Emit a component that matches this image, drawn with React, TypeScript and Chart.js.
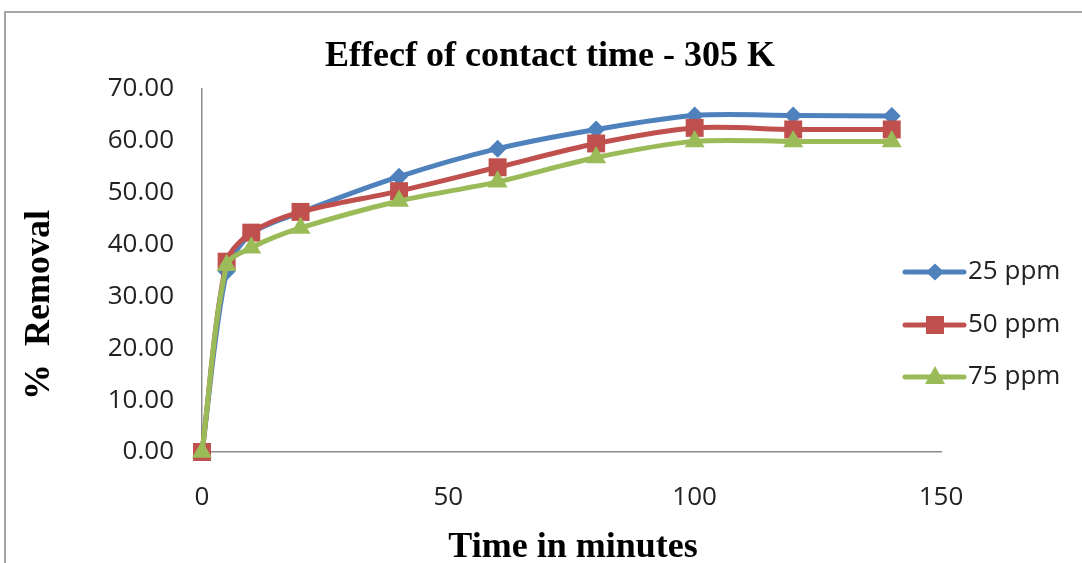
import React, { useEffect, useRef } from "react";
import { Chart, registerables } from "chart.js";

Chart.register(...registerables);

const chartTitle = "Effecf of contact time - 305 K";
const xAxisTitle = "Time in minutes";
const yAxisTitle = "%  Removal";
const timeMinutes = [0, 5, 10, 20, 40, 60, 80, 100, 120, 140];
const removal25 = [0, 34.8, 42.1, 46.2, 53.1, 58.5, 62.2, 64.9, 64.9, 64.8];
const removal50 = [0, 36.7, 42.3, 46.3, 50.3, 54.9, 59.5, 62.5, 62.2, 62.2];
const removal75 = [0, 36.0, 39.4, 43.2, 48.4, 52.1, 56.8, 59.9, 59.9, 59.9];
const seriesLabels = ["25 ppm", "50 ppm", "75 ppm"];
const seriesColors = ["#4F81BD", "#C0504D", "#9BBB59"];
const seriesMarkers = ["rectRot", "rect", "triangle"];
const xTickValues = [0, 50, 100, 150];
const yTickValues = [0, 10, 20, 30, 40, 50, 60, 70];

function drawMarker(ctx: CanvasRenderingContext2D, style: string, x: number, y: number, color: string) {
  ctx.save();
  ctx.fillStyle = color;
  ctx.beginPath();
  if (style === "rectRot") {
    ctx.moveTo(x, y - 8.5);
    ctx.lineTo(x + 9, y);
    ctx.lineTo(x, y + 8.5);
    ctx.lineTo(x - 9, y);
  } else if (style === "rect") {
    ctx.rect(x - 9, y - 9, 18, 18);
  } else {
    ctx.moveTo(x, y - 11);
    ctx.lineTo(x + 10, y + 7);
    ctx.lineTo(x - 10, y + 7);
  }
  ctx.closePath();
  ctx.fill();
  ctx.restore();
}

const SERIF = "'Liberation Serif', 'Times New Roman', serif";
const SANS = "'Open Sans', 'Noto Sans', sans-serif";

const textPlugin = {
  id: "customText",
  afterDraw(chart: any) {
    const ctx: CanvasRenderingContext2D = chart.ctx;
    ctx.save();
    ctx.fillStyle = "#000";
    ctx.textAlign = "center";
    ctx.textBaseline = "alphabetic";
    ctx.font = `bold 36px ${SERIF}`;
    ctx.fillText(chartTitle, 550, 66);
    ctx.fillText(xAxisTitle, 573, 557);
    ctx.translate(49, 305);
    ctx.rotate(-Math.PI / 2);
    ctx.fillText(yAxisTitle, 0, 0);
    ctx.restore();

    const legendY = [272, 325, 377];
    chart.data.datasets.forEach((ds: any, i: number) => {
      const y = legendY[i];
      ctx.save();
      ctx.strokeStyle = ds.borderColor;
      ctx.lineWidth = 5;
      ctx.lineCap = "round";
      ctx.beginPath();
      ctx.moveTo(905, y);
      ctx.lineTo(964, y);
      ctx.stroke();
      drawMarker(ctx, ds.pointStyle, 935, y, ds.borderColor);
      ctx.fillStyle = "#222";
      ctx.textAlign = "left";
      ctx.textBaseline = "middle";
      ctx.font = `26px ${SANS}`;
      ctx.fillText(ds.label, 968, y);
      ctx.restore();
    });
  },
};

export default function App() {
  const canvasRef = useRef<HTMLCanvasElement | null>(null);

  useEffect(() => {
    if (!canvasRef.current) return;
    const seriesData = [removal25, removal50, removal75];
    const radii = [9, 12.7, 11.5];
    const chart = new Chart(canvasRef.current, {
      type: "line",
      data: {
        datasets: seriesData.map((vals, i) => ({
          label: seriesLabels[i],
          data: timeMinutes.map((t, j) => ({ x: t, y: vals[j] })),
          borderColor: seriesColors[i],
          backgroundColor: seriesColors[i],
          pointBackgroundColor: seriesColors[i],
          pointBorderColor: seriesColors[i],
          pointBorderWidth: 0,
          pointStyle: seriesMarkers[i] as any,
          pointRadius: radii[i],
          borderWidth: 5,
          tension: 0.3,
          fill: false,
          clip: false as any,
          order: 3 - i,
        })),
      },
      options: {
        animation: false,
        responsive: false,
        maintainAspectRatio: false,
        layout: { padding: { top: 89, right: 141, left: 0, bottom: 0 } },
        plugins: {
          legend: { display: false },
          title: { display: false },
          tooltip: { enabled: false },
        },
        scales: {
          x: {
            type: "linear",
            min: 0,
            max: 150,
            afterFit: (s: any) => { s.height = 111; },
            afterBuildTicks: (s: any) => { s.ticks = xTickValues.map((v) => ({ value: v })); },
            grid: { display: false, drawTicks: false },
            border: { display: true, color: "#8c8c8c", width: 1.5 },
            ticks: {
              padding: 30,
              color: "#222",
              font: { family: SANS, size: 26 },
              callback: (v: any) => String(v),
            },
          },
          y: {
            type: "linear",
            min: 0,
            max: 70,
            afterFit: (s: any) => { s.width = 202; },
            afterBuildTicks: (s: any) => { s.ticks = yTickValues.map((v) => ({ value: v })); },
            grid: { display: false, drawTicks: false },
            border: { display: true, color: "#8c8c8c", width: 1.5 },
            ticks: {
              padding: 28,
              color: "#222",
              font: { family: SANS, size: 26 },
              callback: (v: any) => Number(v).toFixed(2),
            },
          },
        },
      },
      plugins: [textPlugin],
    });
    return () => chart.destroy();
  }, []);

  return (
    <div style={{ position: "absolute", left: 0, top: 0, width: 1082, height: 563, overflow: "hidden", background: "#fff" }}>
      <div style={{ position: "absolute", left: 4, top: 11, width: 1120, height: 620, border: "2px solid #a6a6a6", boxSizing: "border-box" }} />
      <canvas ref={canvasRef} width={1082} height={563} style={{ position: "absolute", left: 0, top: 0, width: 1082, height: 563 }} />
    </div>
  );
}
